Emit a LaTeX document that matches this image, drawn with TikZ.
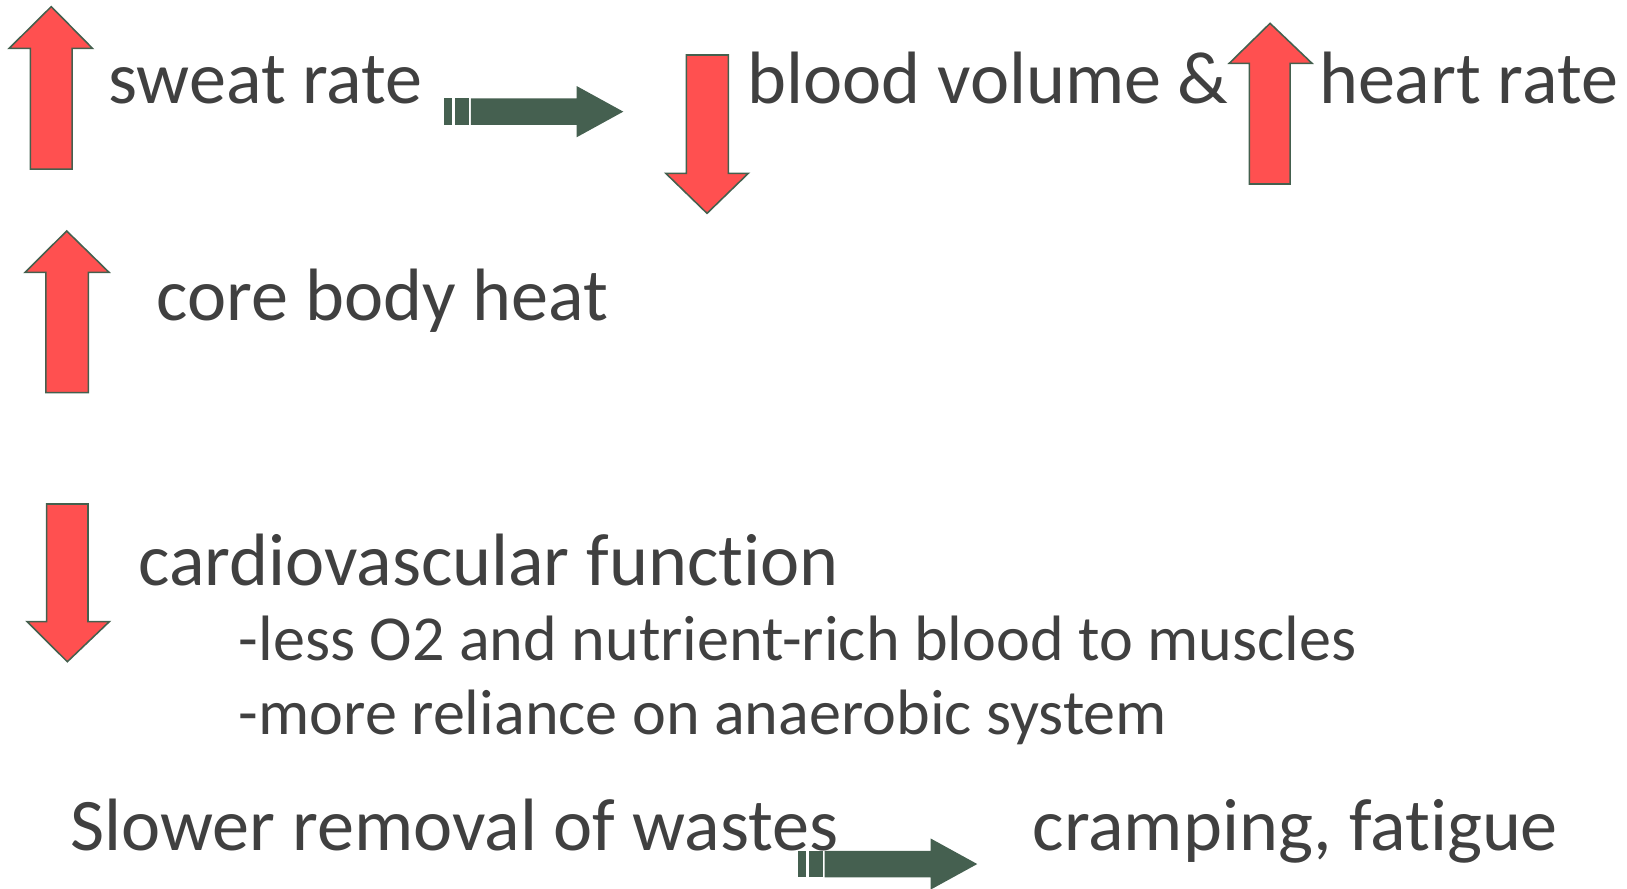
\documentclass[tikz,border=0pt]{standalone}
\usepackage{fontspec}
\setmainfont{Carlito}[Ligatures=NoCommon]
\definecolor{txt}{HTML}{404040}
\definecolor{redf}{HTML}{FF5050}
\definecolor{edgec}{HTML}{44604E}
\definecolor{grn}{HTML}{456050}
\begin{document}
\begin{tikzpicture}[x=1pt,y=-1pt,
  redarrow/.style={fill=redf,draw=edgec,line width=1.5pt,line join=miter},
  lbl/.style={anchor=base west,inner sep=0pt,text=txt,font=\fontsize{71.5}{80}\selectfont},
  sublbl/.style={anchor=base west,inner sep=0pt,text=txt,font=\fontsize{61.8}{70}\selectfont},
  striped/.pic={
    \fill[grn] (0,-12.8) rectangle (8,12.8);
    \fill[grn] (11,-12.8) rectangle (24,12.8);
    \fill[grn] (26,-12.8) -- (128,-12.8) -- (128,-24.7) -- (173,0) -- (128,24.7) -- (128,12.8) -- (26,12.8) -- cycle;
  }]
\useasboundingbox (0,0) rectangle (1568,856);
% texts
\node[lbl] (sweat) at (104,100.2) {sweat rate};
\node[lbl] (blood) at (720,100.2) {blood volume \&};
\node[lbl] (heart) at (1271,100.2) {heart rate};
\node[lbl] (core) at (151,309) {core body heat};
\node[lbl] (cardio) at (133,564) {cardiovascular function};
\node[sublbl] (less) at (230,637) {-less O2 and nutrient-rich blood to muscles};
\node[sublbl] (more) at (230,708) {-more reliance on anaerobic system};
\node[lbl] (slower) at (67.5,819.8) {Slower removal of wastes};
\node[lbl] (cramp) at (995,819.8) {cramping, fatigue};
% red arrows
\draw[redarrow] (49.4,6.4) -- (89.1,46.6) -- (69.5,46.6) -- (69.5,162.9) -- (29.3,162.9) -- (29.3,46.6) -- (8.8,46.6) -- cycle;
\draw[redarrow] (661.4,53) -- (701.9,53) -- (701.9,167) -- (721.2,167) -- (681.4,205.6) -- (641.6,167) -- (661.4,167) -- cycle;
\draw[redarrow] (1224,22.5) -- (1264.4,61) -- (1243.3,61) -- (1243.3,177.3) -- (1204,177.3) -- (1204,61) -- (1184.7,61) -- cycle;
\draw[redarrow] (64.3,222.6) -- (105.1,262.5) -- (85.1,262.5) -- (85.1,378.4) -- (44.2,378.4) -- (44.2,262.5) -- (24.1,262.5) -- cycle;
\draw[redarrow] (45,485.7) -- (84.8,485.7) -- (84.8,599) -- (105.5,599) -- (64.9,637.7) -- (26,599) -- (45,599) -- cycle;
% green striped arrows
\pic at (427.7,107.6) {striped};
\pic at (768.8,832.7) {striped};
\end{tikzpicture}
\end{document}
